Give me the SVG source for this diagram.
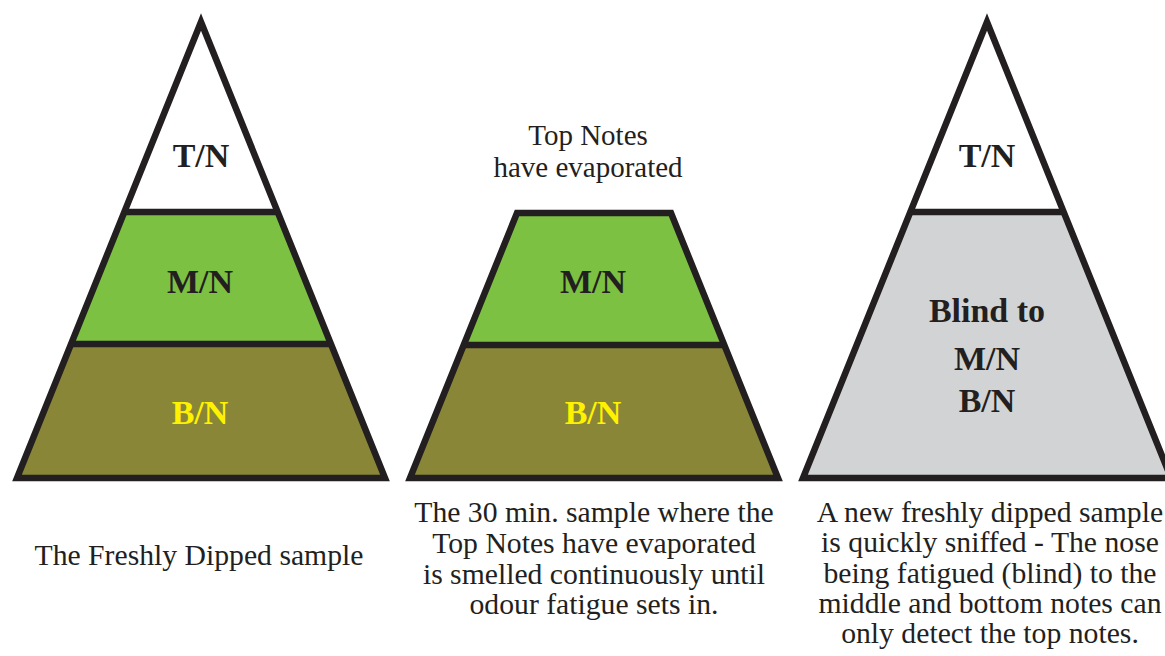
<svg xmlns="http://www.w3.org/2000/svg" width="1165" height="656" viewBox="0 0 1165 656">
<style>
.edge{stroke:#231F20;stroke-width:6.5;stroke-linejoin:miter;stroke-miterlimit:20;}
.lbl{font-weight:bold;font-size:34px;fill:#231F20;text-anchor:middle;}
.yel{fill:#FFF200;}
.cap{font-size:29.7px;fill:#231F20;text-anchor:middle;}
.top{font-size:29px;}
</style>
<rect width="1165" height="656" fill="#FFFFFF"/>
<g font-family="Liberation Serif, Tinos, Times New Roman, DejaVu Serif, serif">
<g id="pyramid-fresh">
  <polygon points="201,22 278,212 124,212" fill="#FFFFFF"/>
  <polygon points="124,212 278,212 331,344 71,344" fill="#7DC142"/>
  <polygon points="71,344 331,344 385,478 17,478" fill="#898737"/>
  <polygon class="edge" points="201,22 385,478 17,478" fill="none"/>
  <line class="edge" x1="124" y1="212" x2="278" y2="212"/>
  <line class="edge" x1="71" y1="344" x2="331" y2="344"/>
  <text class="lbl" x="201" y="167">T/N</text>
  <text class="lbl" x="200" y="293">M/N</text>
  <text class="lbl yel" x="200" y="424">B/N</text>
  <text class="cap" x="199" y="565">The Freshly Dipped sample</text>
</g>
<g id="pyramid-30min">
  <text class="cap top" x="588" y="145">Top Notes</text>
  <text class="cap top" x="588" y="177">have evaporated</text>
  <polygon points="517,213 671,213 724,345 464,345" fill="#7DC142"/>
  <polygon points="464,345 724,345 778,478 410,478" fill="#898737"/>
  <polygon class="edge" points="517,213 671,213 778,478 410,478" fill="none"/>
  <line class="edge" x1="464" y1="345" x2="724" y2="345"/>
  <text class="lbl" x="593" y="293">M/N</text>
  <text class="lbl yel" x="593" y="424">B/N</text>
  <text class="cap" x="594" y="522">The 30 min. sample where the</text>
  <text class="cap" x="594" y="553">Top Notes have evaporated</text>
  <text class="cap" x="594" y="584">is smelled continuously until</text>
  <text class="cap" x="594" y="614">odour fatigue sets in.</text>
</g>
<g id="pyramid-blind">
  <polygon points="987,22 1064,212 910,212" fill="#FFFFFF"/>
  <polygon points="910,212 1064,212 1171,478 803,478" fill="#D1D3D4"/>
  <polygon class="edge" points="987,22 1171,478 803,478" fill="none"/>
  <line class="edge" x1="910" y1="212" x2="1064" y2="212"/>
  <text class="lbl" x="987" y="167">T/N</text>
  <text class="lbl" x="987" y="322">Blind to</text>
  <text class="lbl" x="987" y="370">M/N</text>
  <text class="lbl" x="987" y="412">B/N</text>
  <text class="cap" x="990" y="522">A new freshly dipped sample</text>
  <text class="cap" x="990" y="552">is quickly sniffed - The nose</text>
  <text class="cap" x="990" y="583">being fatigued (blind) to the</text>
  <text class="cap" x="990" y="613">middle and bottom notes can</text>
  <text class="cap" x="990" y="643">only detect the top notes.</text>
</g>
</g>
<g id="connectors"></g>
</svg>
